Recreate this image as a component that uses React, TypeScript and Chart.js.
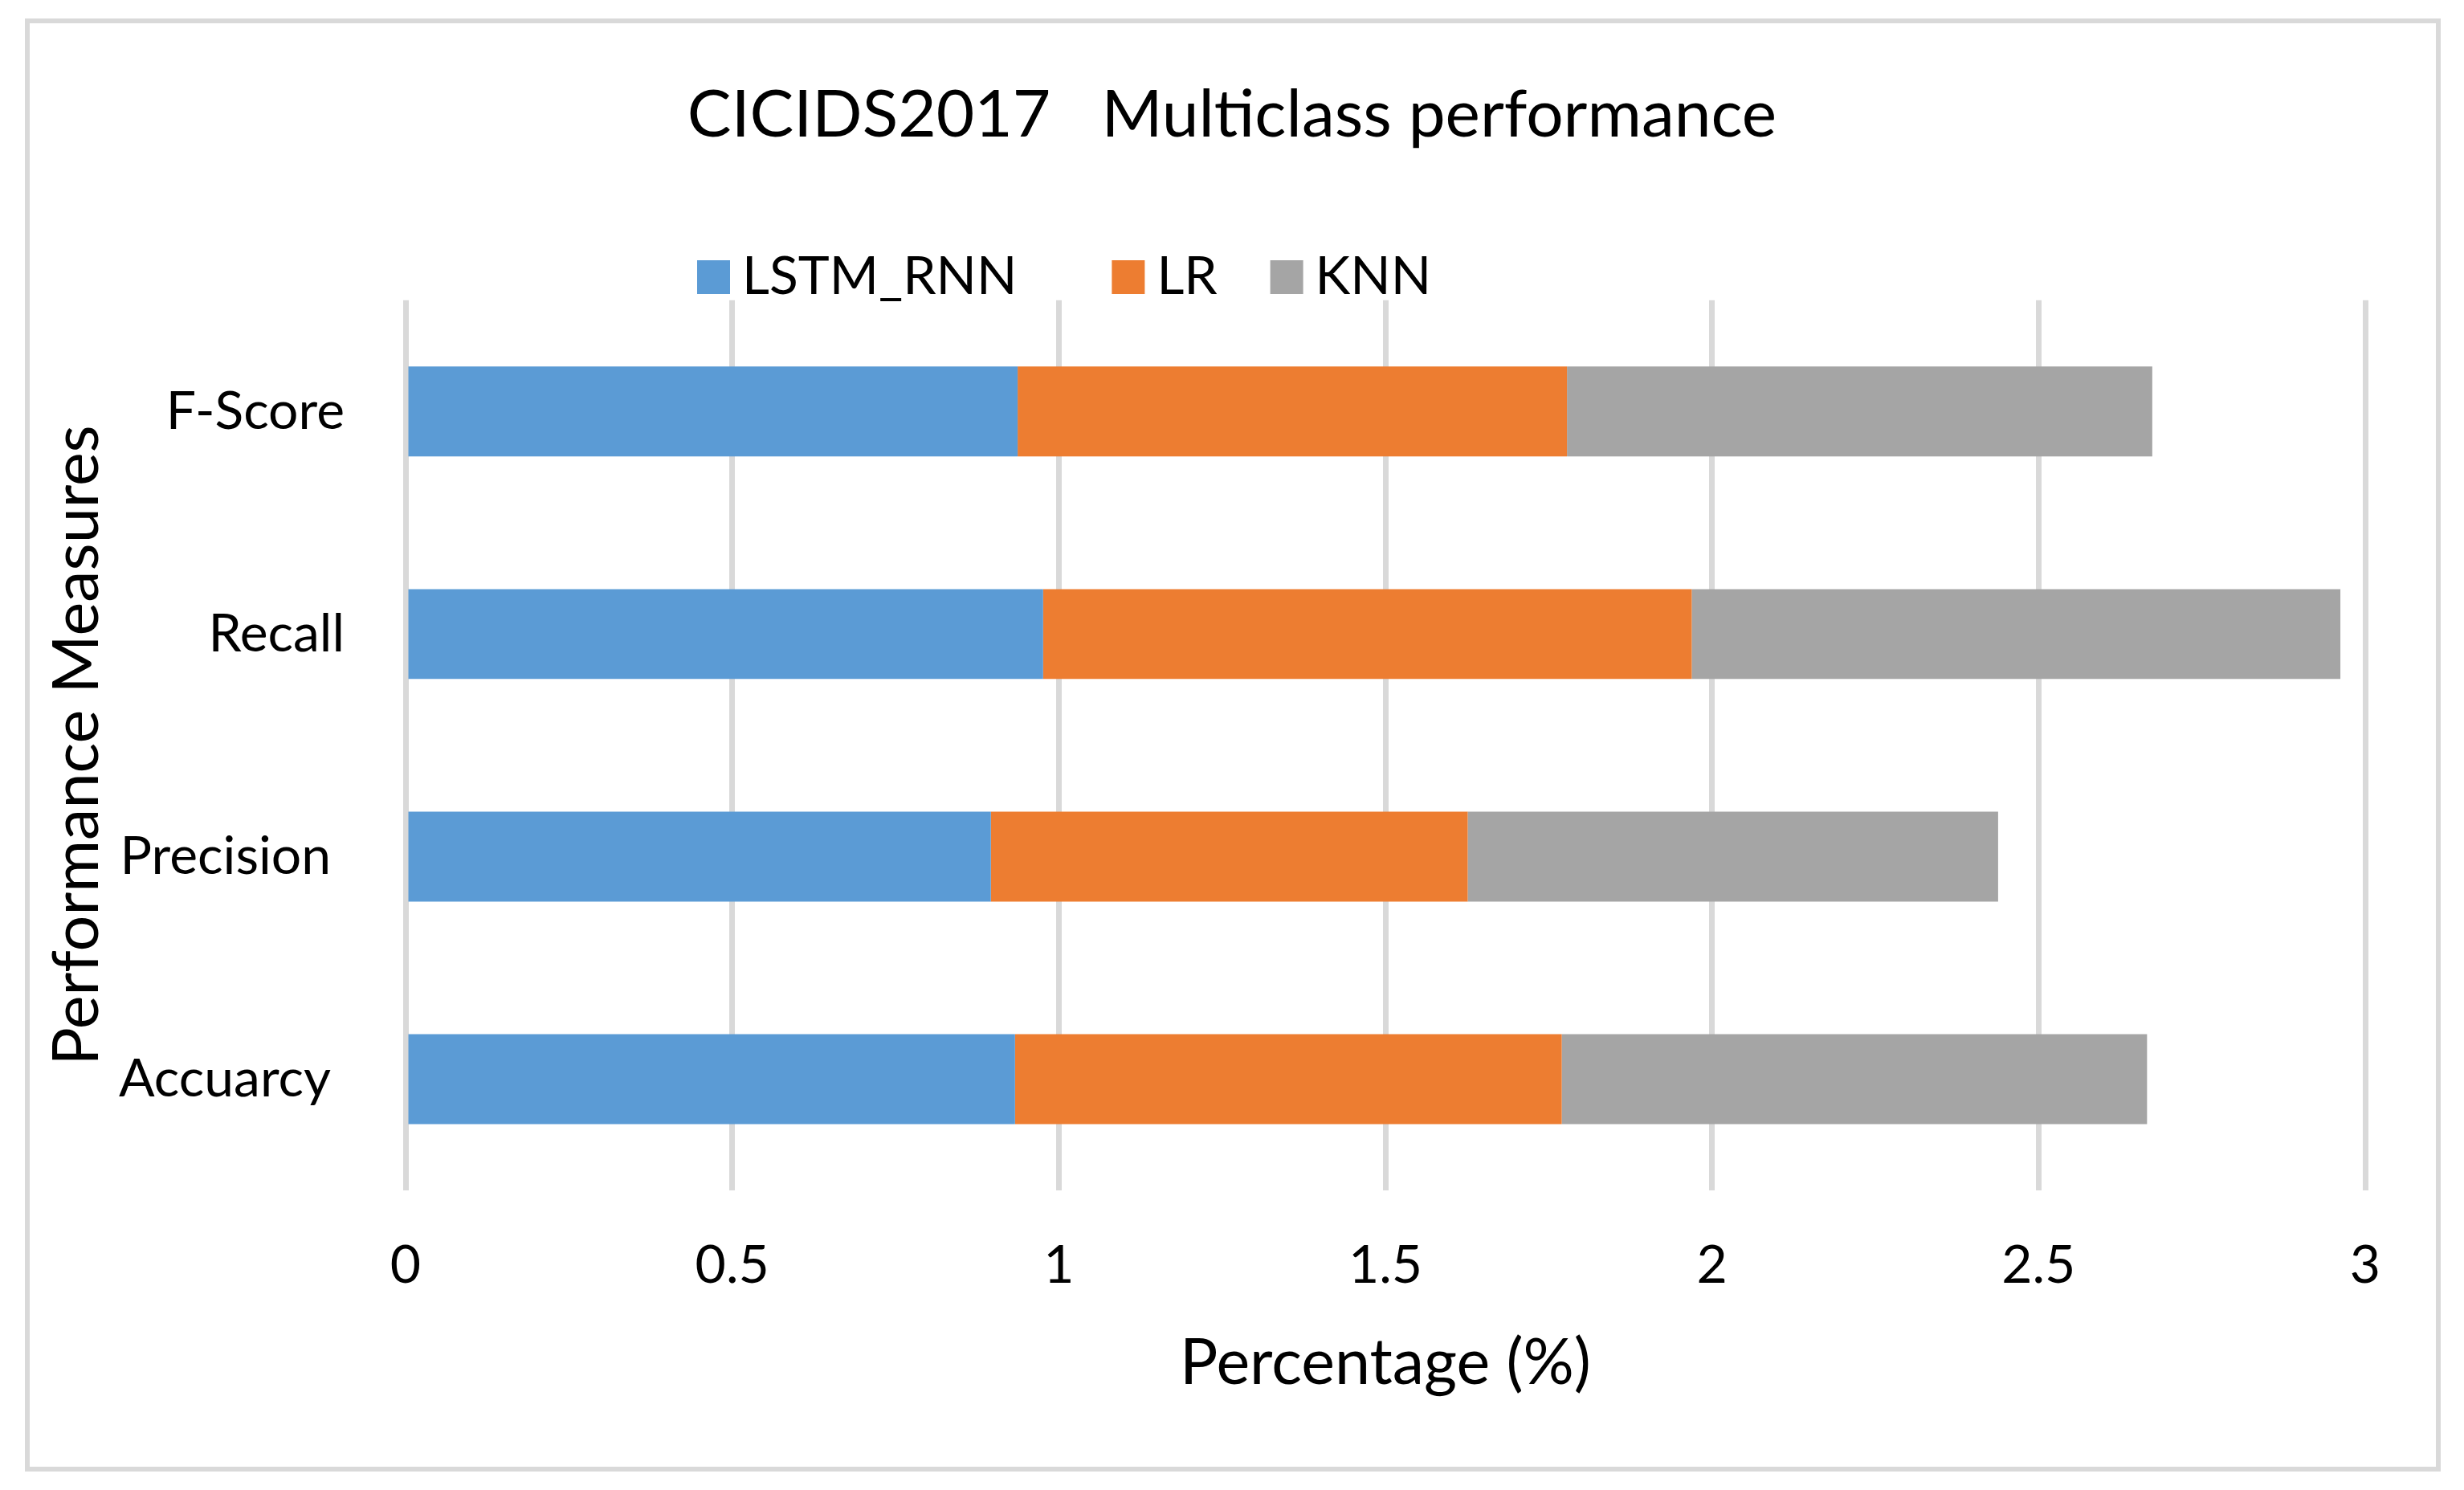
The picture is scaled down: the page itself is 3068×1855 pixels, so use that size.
import React, { useEffect, useRef } from 'react';
import { Chart, registerables } from 'chart.js';

Chart.register(...registerables);

// Categories in data order (Excel draws the first one at the bottom)
const categories = ['Accuarcy ', 'Precision ', 'Recall', 'F-Score'];
const seriesNames = ['LSTM_RNN', 'LR', 'KNN'];
const lstmRnn = [0.933, 0.896, 0.976, 0.937];
const lr = [0.837, 0.730, 0.993, 0.841];
const knn = [0.896, 0.812, 0.993, 0.896];
const xTicks = [0, 0.5, 1, 1.5, 2, 2.5, 3];
const xTickLabels = ['0', '0.5', '1', '1.5', '2', '2.5', '3'];

const COLORS = ['#5B9BD5', '#ED7D31', '#A5A5A5'];
const FONT = 'Lato';

const legendPlugin = {
  id: 'excelLegend',
  afterDraw(chart: any) {
    const ctx = chart.ctx;
    ctx.save();
    ctx.font = `66px ${FONT}`;
    ctx.textBaseline = 'middle';
    ctx.textAlign = 'left';
    const gaps = [118, 66, 0];
    let x = 868;
    chart.data.datasets.forEach((ds: any, i: number) => {
      ctx.fillStyle = ds.backgroundColor;
      ctx.fillRect(x, 324, 41, 42);
      x += 41 + 15;
      ctx.fillStyle = '#000';
      ctx.fillText(ds.label, x, 345);
      x += ctx.measureText(ds.label).width + gaps[i];
    });
    ctx.restore();
  },
};

export default function App() {
  const canvasRef = useRef<HTMLCanvasElement | null>(null);

  useEffect(() => {
    if (!canvasRef.current) return;
    const data = [lstmRnn, lr, knn];
    const chart = new Chart(canvasRef.current, {
      type: 'bar',
      data: {
        labels: categories,
        datasets: seriesNames.map((name, i) => ({
          label: name,
          data: data[i],
          backgroundColor: COLORS[i],
          borderWidth: 0,
          categoryPercentage: 1,
          barPercentage: 0.404,
        })),
      },
      options: {
        indexAxis: 'y',
        animation: false,
        responsive: true,
        maintainAspectRatio: false,
        layout: { padding: { left: 123, right: 123, top: 0, bottom: 0 } },
        plugins: {
          legend: { display: false },
          tooltip: { enabled: false },
          title: {
            display: true,
            text: 'CICIDS2017   Multiclass performance',
            color: '#000',
            font: { family: FONT, size: 82, weight: 'normal' },
            padding: { top: 94, bottom: 181.4 },
          },
        },
        scales: {
          x: {
            stacked: true,
            min: 0,
            max: 3,
            afterBuildTicks: (scale: any) => {
              scale.ticks = xTicks.map((v) => ({ value: v }));
            },
            grid: { color: '#D9D9D9', lineWidth: 7, drawTicks: false },
            border: { display: false },
            ticks: {
              color: '#000',
              font: { family: FONT, size: 66 },
              padding: 54,
              callback: (_v: any, i: number) => xTickLabels[i],
            },
            title: {
              display: true,
              text: 'Percentage (%)',
              color: '#000',
              font: { family: FONT, size: 79 },
              padding: { top: 0, bottom: 110 },
            },
            afterFit: (scale: any) => {
              scale.height = 373;
            },
          },
          y: {
            stacked: true,
            reverse: true,
            grid: { display: false, drawTicks: false },
            border: { display: false },
            ticks: {
              color: '#000',
              font: { family: FONT, size: 66 },
              padding: 76,
            },
            title: {
              display: true,
              text: 'Performance Measures',
              color: '#000',
              font: { family: FONT, size: 79 },
              padding: { top: -74, bottom: 0 },
            },
            afterFit: (scale: any) => {
              scale.width = 382;
            },
          },
        },
      },
      plugins: [legendPlugin],
    } as any);
    return () => chart.destroy();
  }, []);

  return (
    <div
      style={{
        position: 'fixed',
        left: 0,
        top: 0,
        width: 3068,
        height: 1855,
        background: '#fff',
      }}
    >
      <div
        style={{
          position: 'absolute',
          left: 31,
          top: 23,
          width: 3008,
          height: 1809,
          border: '6px solid #D9D9D9',
          boxSizing: 'border-box',
          pointerEvents: 'none',
        }}
      />
      <canvas ref={canvasRef} style={{ position: 'absolute', left: 0, top: 0 }} />
    </div>
  );
}
